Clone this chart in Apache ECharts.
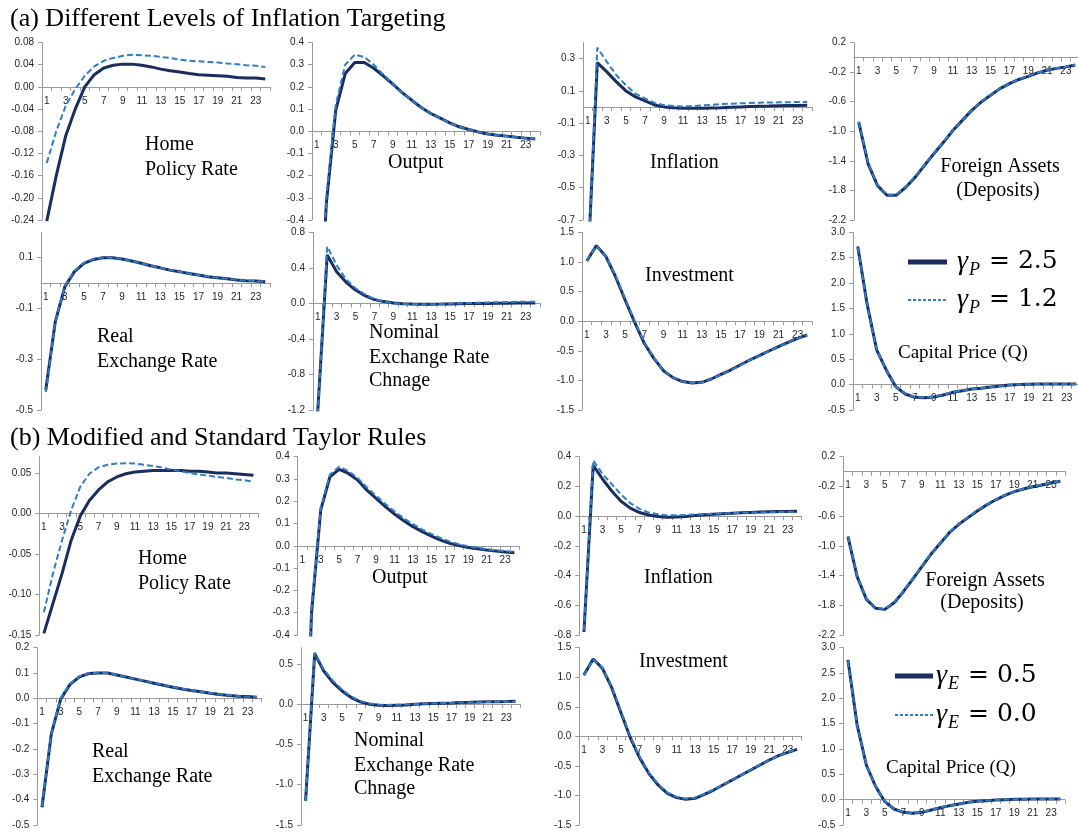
<!DOCTYPE html>
<html><head><meta charset="utf-8">
<script src="https://cdn.jsdelivr.net/npm/echarts@6/dist/echarts.min.js"></script>
<style>html,body{margin:0;padding:0;background:#fff}#c{width:1078px;height:833px}</style>
</head><body><div id="c"></div>
<script>
const periods = ['1','2','3','4','5','6','7','8','9','10','11','12','13','14','15','16','17','18','19','20','21','22','23','24'];

// (a) Different Levels of Inflation Targeting: solid = gammaP 2.5, dashed = gammaP 1.2
const aPolicySolid = [-0.242,-0.160,-0.088,-0.040,0.000,0.022,0.034,0.039,0.041,0.041,0.039,0.036,0.032,0.029,0.027,0.024,0.022,0.021,0.020,0.019,0.017,0.016,0.016,0.014];
const aPolicyDash  = [-0.137,-0.080,-0.034,-0.004,0.020,0.037,0.047,0.052,0.056,0.058,0.057,0.056,0.054,0.052,0.049,0.047,0.046,0.045,0.044,0.042,0.041,0.039,0.038,0.036];
const aOutputSolid = [-1.2,-0.33,0.095,0.26,0.31,0.31,0.284,0.25,0.213,0.174,0.14,0.107,0.08,0.059,0.038,0.02,0.008,-0.003,-0.012,-0.018,-0.022,-0.027,-0.031,-0.035];
const aOutputDash  = [-1.2,-0.30,0.12,0.30,0.345,0.335,0.30,0.255,0.215,0.175,0.14,0.107,0.08,0.058,0.038,0.02,0.008,-0.003,-0.012,-0.018,-0.023,-0.027,-0.031,-0.034];
const aInflSolid   = [-1.0,0.275,0.218,0.156,0.10,0.063,0.038,0.013,0.001,-0.005,-0.007,-0.008,-0.008,-0.006,-0.004,-0.001,0.001,0.003,0.005,0.006,0.008,0.009,0.010,0.011];
const aInflDash    = [-1.05,0.368,0.28,0.197,0.135,0.083,0.053,0.026,0.011,0.006,0.004,0.005,0.010,0.014,0.018,0.021,0.023,0.025,0.027,0.028,0.029,0.030,0.031,0.031];
const aFASolid     = [-0.876,-1.44,-1.735,-1.865,-1.865,-1.757,-1.62,-1.46,-1.30,-1.15,-0.99,-0.853,-0.718,-0.605,-0.514,-0.424,-0.356,-0.30,-0.257,-0.21,-0.175,-0.15,-0.13,-0.103];
const aFADash      = [-0.87,-1.43,-1.73,-1.86,-1.86,-1.75,-1.615,-1.455,-1.295,-1.145,-0.99,-0.85,-0.715,-0.60,-0.51,-0.42,-0.352,-0.297,-0.254,-0.208,-0.173,-0.148,-0.128,-0.10];
const aRERSolid    = [-0.421,-0.152,-0.014,0.045,0.078,0.093,0.100,0.100,0.095,0.087,0.078,0.068,0.060,0.051,0.045,0.038,0.032,0.025,0.021,0.017,0.012,0.009,0.008,0.005];
const aRERDash     = [-0.430,-0.150,-0.012,0.047,0.080,0.095,0.101,0.100,0.095,0.087,0.078,0.069,0.060,0.052,0.045,0.038,0.032,0.026,0.021,0.017,0.013,0.010,0.008,0.006];
const aNERSolid    = [-1.22,0.545,0.357,0.237,0.15,0.087,0.042,0.02,0.004,-0.004,-0.008,-0.009,-0.009,-0.008,-0.006,-0.004,-0.002,-0.001,0.0,0.001,0.002,0.003,0.003,0.004];
const aNERDash     = [-1.25,0.64,0.43,0.27,0.17,0.10,0.05,0.02,0.003,-0.006,-0.010,-0.011,-0.010,-0.008,-0.004,0.0,0.004,0.008,0.011,0.013,0.015,0.017,0.018,0.019];
const aInvSolid    = [1.016,1.275,1.09,0.75,0.357,-0.02,-0.374,-0.628,-0.836,-0.954,-1.02,-1.044,-1.033,-0.977,-0.898,-0.825,-0.74,-0.656,-0.583,-0.504,-0.431,-0.358,-0.29,-0.234];
const aInvDash     = [1.02,1.27,1.10,0.77,0.38,0.0,-0.36,-0.62,-0.83,-0.95,-1.02,-1.045,-1.035,-0.98,-0.90,-0.83,-0.745,-0.66,-0.585,-0.505,-0.432,-0.36,-0.292,-0.236];
const aQSolid      = [2.72,1.57,0.68,0.29,-0.04,-0.185,-0.25,-0.257,-0.244,-0.205,-0.152,-0.12,-0.087,-0.073,-0.047,-0.027,-0.007,0.0,0.008,0.010,0.012,0.012,0.012,0.012];
const aQDash       = [2.70,1.56,0.68,0.29,-0.04,-0.18,-0.245,-0.255,-0.24,-0.20,-0.15,-0.118,-0.085,-0.07,-0.045,-0.025,-0.006,0.002,0.009,0.011,0.013,0.013,0.013,0.013];

// (b) Modified and Standard Taylor Rules: solid = gammaE 0.5, dashed = gammaE 0.0
const bPolicySolid = [-0.148,-0.111,-0.074,-0.033,-0.003,0.016,0.029,0.039,0.045,0.049,0.051,0.052,0.053,0.053,0.053,0.053,0.052,0.052,0.051,0.050,0.050,0.049,0.048,0.047];
const bPolicyDash  = [-0.122,-0.074,-0.033,0.004,0.033,0.049,0.057,0.060,0.0615,0.062,0.0615,0.060,0.0586,0.0566,0.054,0.052,0.050,0.048,0.0467,0.045,0.0438,0.042,0.041,0.039];
const bOutputSolid = [-1.5,-0.30,0.161,0.31,0.343,0.325,0.295,0.25,0.213,0.176,0.143,0.113,0.086,0.064,0.044,0.026,0.011,0.001,-0.007,-0.013,-0.019,-0.023,-0.028,-0.031];
const bOutputDash  = [-1.5,-0.28,0.17,0.32,0.355,0.335,0.305,0.262,0.225,0.188,0.155,0.124,0.097,0.073,0.053,0.035,0.019,0.007,-0.002,-0.009,-0.015,-0.020,-0.024,-0.027];
const bInflSolid   = [-0.78,0.342,0.25,0.169,0.10,0.054,0.024,0.008,-0.002,-0.008,-0.006,-0.002,0.004,0.009,0.013,0.016,0.019,0.022,0.025,0.027,0.029,0.031,0.032,0.033];
const bInflDash    = [-0.77,0.375,0.285,0.215,0.146,0.088,0.049,0.024,0.012,0.005,0.006,0.008,0.011,0.013,0.016,0.018,0.020,0.022,0.024,0.025,0.026,0.027,0.027,0.028];
const bFASolid     = [-0.877,-1.415,-1.72,-1.84,-1.855,-1.765,-1.617,-1.45,-1.28,-1.11,-0.965,-0.82,-0.71,-0.62,-0.53,-0.45,-0.38,-0.32,-0.27,-0.235,-0.205,-0.18,-0.155,-0.13];
const bFADash      = [-0.87,-1.41,-1.715,-1.835,-1.85,-1.76,-1.612,-1.445,-1.275,-1.105,-0.96,-0.815,-0.705,-0.615,-0.525,-0.446,-0.377,-0.318,-0.268,-0.233,-0.203,-0.178,-0.153,-0.128];
const bRERSolid    = [-0.43,-0.14,-0.003,0.055,0.085,0.098,0.100,0.100,0.092,0.084,0.076,0.068,0.060,0.052,0.044,0.037,0.031,0.026,0.020,0.015,0.011,0.008,0.007,0.004];
const bRERDash     = [-0.425,-0.138,-0.001,0.057,0.087,0.099,0.101,0.100,0.093,0.085,0.077,0.069,0.061,0.053,0.045,0.038,0.032,0.026,0.021,0.016,0.012,0.009,0.007,0.005];
const bNERSolid    = [-1.20,0.627,0.41,0.266,0.163,0.081,0.028,-0.001,-0.014,-0.018,-0.014,-0.010,-0.001,0.004,0.008,0.012,0.015,0.020,0.022,0.025,0.028,0.030,0.032,0.035];
const bNERDash     = [-1.20,0.64,0.43,0.29,0.18,0.095,0.04,0.008,-0.006,-0.010,-0.008,-0.005,0.0,0.005,0.009,0.013,0.016,0.020,0.022,0.024,0.026,0.028,0.030,0.031];
const bInvSolid    = [1.04,1.31,1.15,0.823,0.40,-0.02,-0.36,-0.626,-0.823,-0.964,-1.037,-1.066,-1.049,-0.98,-0.908,-0.823,-0.739,-0.654,-0.57,-0.485,-0.40,-0.327,-0.27,-0.22];
const bInvDash     = [1.03,1.30,1.16,0.84,0.42,0.0,-0.345,-0.61,-0.81,-0.95,-1.025,-1.055,-1.04,-0.975,-0.90,-0.82,-0.735,-0.65,-0.565,-0.48,-0.40,-0.325,-0.268,-0.218];
const bQSolid      = [2.76,1.47,0.68,0.26,-0.04,-0.184,-0.25,-0.27,-0.25,-0.204,-0.158,-0.118,-0.086,-0.053,-0.033,-0.02,-0.008,0.0,0.006,0.010,0.012,0.013,0.013,0.013];
const bQDash       = [2.74,1.46,0.68,0.26,-0.038,-0.18,-0.247,-0.267,-0.247,-0.2,-0.155,-0.116,-0.084,-0.052,-0.032,-0.019,-0.007,0.001,0.007,0.011,0.013,0.014,0.014,0.014];

const panelTitles = [
  ['Home','Policy Rate'],['Output'],['Inflation'],['Foreign Assets','(Deposits)'],
  ['Real','Exchange Rate'],['Nominal','Exchange Rate','Chnage'],['Investment'],['Capital Price (Q)'],
  ['Home','Policy Rate'],['Output'],['Inflation'],['Foreign Assets','(Deposits)'],
  ['Real','Exchange Rate'],['Nominal','Exchange Rate','Chnage'],['Investment'],['Capital Price (Q)']
];
const sectionTitles = ['(a) Different Levels of Inflation Targeting','(b) Modified and Standard Taylor Rules'];
const legendA = ['P','= 2.5','= 1.2'];
const legendB = ['E','= 0.5','= 0.0'];

const SOLID = '#1b2c5e', DASH = '#2e7dc6';
const rows = [{t:42.5,b:220},{t:232.3,b:410},{t:456.7,b:635},{t:647.7,b:825}];

const panels = [
 {s:aPolicySolid,d:aPolicyDash,r:0,l:42,  rt:270, min:-0.24,max:0.08,iv:0.04,dec:2},
 {s:aOutputSolid,d:aOutputDash,r:0,l:312, rt:540, min:-0.4,max:0.4,iv:0.1,dec:1},
 {s:aInflSolid,  d:aInflDash,  r:0,l:583, rt:812, min:-0.7,max:0.4,iv:0.2,dec:1,hm:true},
 {s:aFASolid,    d:aFADash,    r:0,l:854, rt:1080,min:-2.2,max:0.2,iv:0.4,dec:1},
 {s:aRERSolid,   d:aRERDash,   r:1,l:41,  rt:270, min:-0.5,max:0.2,iv:0.2,dec:1,hm:true},
 {s:aNERSolid,   d:aNERDash,   r:1,l:313, rt:540, min:-1.2,max:0.8,iv:0.4,dec:1},
 {s:aInvSolid,   d:aInvDash,   r:1,l:582, rt:812, min:-1.5,max:1.5,iv:0.5,dec:1},
 {s:aQSolid,     d:aQDash,     r:1,l:853, rt:1081,min:-0.5,max:3.0,iv:0.5,dec:1},
 {s:bPolicySolid,d:bPolicyDash,r:2,l:39.3,rt:258, min:-0.15,max:0.07,iv:0.05,dec:2,hm:true},
 {s:bOutputSolid,d:bOutputDash,r:2,l:297.7,rt:519,min:-0.4,max:0.4,iv:0.1,dec:1},
 {s:bInflSolid,  d:bInflDash,  r:2,l:579.3,rt:801.7,min:-0.8,max:0.4,iv:0.2,dec:1},
 {s:bFASolid,    d:bFADash,    r:2,l:843.3,rt:1065,min:-2.2,max:0.2,iv:0.4,dec:1},
 {s:bRERSolid,   d:bRERDash,   r:3,l:37.3,rt:261.7,min:-0.5,max:0.2,iv:0.1,dec:1},
 {s:bNERSolid,   d:bNERDash,   r:3,l:301, rt:520, min:-1.5,max:0.7,iv:0.5,dec:1,hm:true},
 {s:bInvSolid,   d:bInvDash,   r:3,l:579.3,rt:801.7,min:-1.5,max:1.5,iv:0.5,dec:1},
 {s:bQSolid,     d:bQDash,     r:3,l:843.3,rt:1065,min:-0.5,max:3.0,iv:0.5,dec:1}
];

const titlePos = [
 [[145,145,'left'],[145,170,'left']],
 [[388,163,'left']],
 [[650,163,'left']],
 [[1000,167,'center'],[998,191,'center']],
 [[97,337,'left'],[97,362,'left']],
 [[369,333,'left'],[369,358,'left'],[369,381,'left']],
 [[645,276,'left']],
 [[898,353,'left']],
 [[138,559,'left'],[138,584,'left']],
 [[372,578,'left']],
 [[644,578,'left']],
 [[985,581,'center'],[982,603,'center']],
 [[92,752,'left'],[92,777,'left']],
 [[354,741,'left'],[354,766,'left'],[354,789,'left']],
 [[639,662,'left']],
 [[886,768,'left']]
];

const grid=[], xAxis=[], yAxis=[], series=[], graphic=[];
const lblFont = {fontFamily:'Liberation Sans', fontSize:10, color:'#262626'};
panels.forEach((p,i)=>{
  const R = rows[p.r];
  const h = R.b-R.t;
  grid.push({left:p.l, top:R.t, width:p.rt-p.l, height:h, containLabel:false, outerBoundsMode:'none'});
  // place the category axis on the value zero line (labels follow it)
  const zeroUp = h*(0-p.min)/(p.max-p.min);
  xAxis.push({type:'category', gridIndex:i, data:periods, boundaryGap:true, position:'bottom', offset:-zeroUp,
    axisLine:{show:true, onZero:false, lineStyle:{color:'#9a9a9a', width:1}},
    axisTick:{show:true, interval:0, length:4, lineStyle:{color:'#9a9a9a'}},
    axisLabel:Object.assign({interval:1, margin:9}, lblFont),
    splitLine:{show:false}});
  yAxis.push({type:'value', gridIndex:i, min:p.min, max:p.max, interval:p.iv,
    axisLine:{show:true, lineStyle:{color:'#9a9a9a', width:1}},
    axisTick:{show:true, length:4, lineStyle:{color:'#9a9a9a'}},
    axisLabel:Object.assign({margin:8, showMaxLabel: !p.hm,
      formatter:v=>{const x=Math.abs(v)<1e-9?0:v; return x.toFixed(p.dec);}}, lblFont),
    splitLine:{show:false}});
  series.push({type:'line', xAxisIndex:i, yAxisIndex:i, data:p.s, showSymbol:false, clip:true,
    lineStyle:{color:SOLID, width:3}, z:2, silent:true});
  series.push({type:'line', xAxisIndex:i, yAxisIndex:i, data:p.d, showSymbol:false, clip:true,
    lineStyle:{color:DASH, width:2, type:[6,3]}, z:3, silent:true});
  panelTitles[i].forEach((t,j)=>{
    const pos = titlePos[i][j];
    graphic.push({type:'text', x:pos[0], y:pos[1], z:10, style:{text:t, fill:'#000',
      font:(i%8===7?'19px':'20px')+' "Liberation Serif"', align:pos[2], verticalAlign:'middle'}});
  });
});

sectionTitles.forEach((t,k)=>{
  graphic.push({type:'text', x:10, y:k===0?19:438, style:{text:t, fill:'#000',
    font:'26px "Liberation Serif"', align:'left', verticalAlign:'middle'}});
});

function legend(x1,x2,tx,y1,y2,sub){
  graphic.push({type:'line', shape:{x1:x1,y1:y1,x2:x2,y2:y1}, style:{stroke:SOLID, lineWidth:5}});
  graphic.push({type:'line', shape:{x1:x1,y1:y2,x2:x2,y2:y2}, style:{stroke:DASH, lineWidth:2, lineDash:[3,2]}});
  [[y1,sub[1]],[y2,sub[2]]].forEach(([y,txt])=>{
    graphic.push({type:'text', x:tx, y:y, style:{text:'\u03b3', fill:'#000', font:'italic 28px "Liberation Serif"', align:'left', verticalAlign:'middle'}});
    graphic.push({type:'text', x:tx+12, y:y+8, style:{text:sub[0], fill:'#000', font:'italic 18px "Liberation Serif"', align:'left', verticalAlign:'middle'}});
    graphic.push({type:'text', x:tx+32, y:y-1, style:{text:txt, fill:'#000', font:'25px "DejaVu Serif"', align:'left', verticalAlign:'middle'}});
  });
}
legend(908,947,957,262,300,legendA);
legend(895,933,936,676,715,legendB);

const chart = echarts.init(document.getElementById('c'), null, {renderer:'canvas'});
chart.setOption({animation:false, backgroundColor:'#fff', grid, xAxis, yAxis, series, graphic});
</script>
</body></html>
